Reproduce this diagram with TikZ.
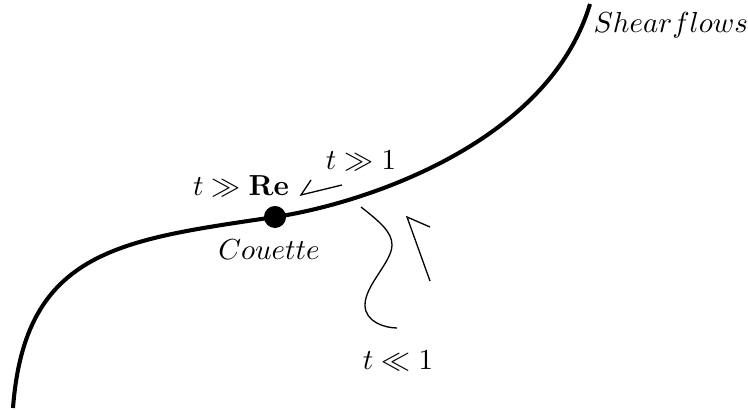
\documentclass[tikz,border=0pt]{standalone}
\usepackage{amsmath,amssymb,amsfonts}
\usepackage{xcolor}
\usepackage{tikz}

\begin{document}
\begin{tikzpicture}[x=0.345pt, y=0.345pt,
    flowline/.style={line width=1.4pt},
    thinline/.style={line width=0.45pt, line join=miter},
    lbl/.style={inner sep=0pt, anchor=base}]
    \useasboundingbox (0,0) rectangle (748,410);
    % main curve
    \draw[flowline] (13,2) .. controls (25,160) and (120,170) .. (275,193)
        .. controls (360,205.6) and (548,265) .. (590,406);
    \node[circle, fill=black, inner sep=0pt, minimum size=7.6pt] (couette) at (275,193) {};
    % labels
    \node[lbl, anchor=base west] (shear) at (593,377) {$Shear flows$};
    \node[lbl] (tre) at (241,214) {$t \gg \mathbf{Re}$};
    \node[lbl] (name) at (269,150) {$Couette$};
    \node[lbl] (tlarge) at (361,240) {$t \gg 1$};
    \node[lbl] (tsmall) at (398,40) {$t \ll 1$};
    % wavy path leaving the curve
    \coordinate (w0) at (361,203);
    \coordinate (w3) at (397,82);
    \draw[thinline] (w0) .. controls (380,188) and (392,178) .. (392,165)
        .. controls (392,148) and (365,125) .. (365,105)
        .. controls (365,88) and (385,82) .. (w3);
    % half arrows
    \coordinate (a1s) at (430,129);
    \coordinate (a1t) at (407,193);
    \coordinate (a1b) at (430,183);
    \coordinate (a2s) at (342,225);
    \coordinate (a2t) at (301,215);
    \coordinate (a2b) at (311,230);
    \draw[thinline] (a1s) -- (a1t) -- (a1b);
    \draw[thinline] (a2s) -- (a2t) -- (a2b);
\end{tikzpicture}
\end{document}
